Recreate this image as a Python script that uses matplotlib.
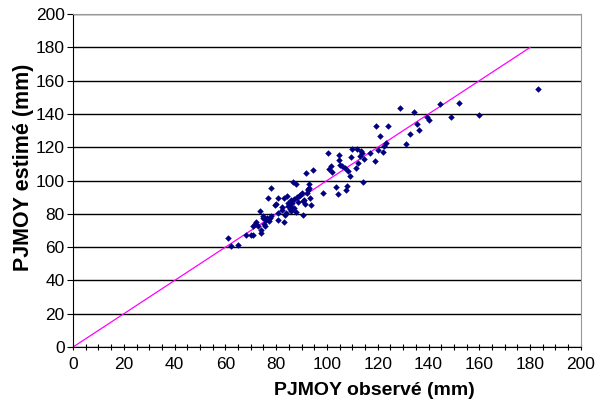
import numpy as np
import matplotlib
matplotlib.use('Agg')
import matplotlib.pyplot as plt
from matplotlib.ticker import MultipleLocator

plt.rcParams['font.family'] = ['Liberation Sans', 'DejaVu Sans']

# PJMOY observé (mm)
obs = [183.0, 61.2, 62.2, 65.1, 68.3, 70.0, 71.0, 71.0, 71.8, 72.2,
       73.7, 74.1, 74.2, 74.8, 75.3, 75.6, 76.0, 76.3, 76.6, 77.1,
       77.4, 78.1, 79.4, 80.0, 80.6, 80.6, 80.6, 82.1, 82.4, 82.9,
       83.2, 83.6, 83.9, 84.2, 84.7, 85.1, 85.4, 85.7, 86.2, 86.6,
       86.9, 87.2, 87.7, 88.0, 88.2, 88.8, 89.2, 90.0, 90.4, 90.7,
       91.0, 91.5, 91.8, 92.1, 92.6, 93.0, 93.0, 93.5, 93.9, 94.5,
       98.3, 100.6, 100.9, 101.7, 102.1, 103.6, 104.4, 104.9, 104.9, 105.2,
       106.0, 107.1, 107.4, 107.7, 108.2, 109.1, 109.4, 109.7, 111.3, 112.0,
       112.3, 113.2, 113.5, 114.0, 114.3, 114.7, 116.9, 119.1, 119.3, 120.3,
       120.8, 121.9, 122.6, 123.4, 124.1, 128.7, 131.0, 132.9, 134.3, 135.5,
       136.3, 139.3, 140.1, 144.6, 148.7, 152.2, 159.8,
       72.8, 75.0, 77.8, 84.5, 86.0, 88.5, 92.4, 85.8]
# PJMOY estimé (mm)
est = [155.0, 65.7, 60.5, 61.1, 67.3, 67.3, 67.3, 72.5, 74.1, 74.9,
       81.9, 70.5, 68.5, 77.5, 74.1, 72.5, 76.1, 77.5, 89.5, 75.5,
       77.5, 95.5, 85.5, 85.9, 89.5, 80.5, 76.1, 82.1, 83.9, 75.3,
       89.5, 79.5, 80.5, 90.5, 86.5, 84.5, 82.9, 88.5, 86.5, 98.9,
       83.5, 88.9, 81.3, 98.1, 90.1, 90.5, 91.5, 92.5, 79.3, 87.5,
       88.5, 86.1, 104.5, 92.5, 94.5, 98.1, 95.5, 89.5, 85.1, 106.1,
       92.5, 116.5, 106.9, 108.5, 104.9, 96.1, 91.9, 115.5, 112.5, 109.1,
       108.5, 107.5, 94.5, 96.5, 105.5, 102.9, 114.1, 118.9, 107.5, 118.9,
       110.5, 114.9, 117.5, 116.5, 98.9, 112.9, 116.5, 111.5, 132.5, 118.1,
       126.9, 116.9, 120.5, 122.5, 132.9, 143.9, 122.1, 127.9, 141.5, 134.1,
       130.1, 138.1, 136.5, 145.9, 138.5, 146.5, 139.5,
       73.0, 79.0, 78.5, 85.0, 84.0, 87.0, 95.0, 82.0]

# droite 1:1
line_x = [0, 180]
line_y = [0, 180]

fig = plt.figure(figsize=(6.14, 4.04), dpi=100)
ax = fig.add_axes([0.119, 0.141, 0.827, 0.824])

ax.set_axisbelow(True)
ax.yaxis.grid(True, color='black', linewidth=1.0)
ax.plot(line_x, line_y, color='#FF00FF', linewidth=0.9, zorder=2)
ax.scatter(obs, est, marker='D', s=11, color='#000080', linewidths=0, zorder=3)

ax.set_xlim(0, 200)
ax.set_ylim(0, 200)
ax.xaxis.set_major_locator(MultipleLocator(20))
ax.xaxis.set_minor_locator(MultipleLocator(5))
ax.yaxis.set_major_locator(MultipleLocator(20))

for s in ['top', 'right']:
    ax.spines[s].set_color('#999999')
ax.spines['left'].set_color('black')
ax.spines['bottom'].set_color('black')

ax.tick_params(axis='x', which='both', direction='inout', length=5, width=0.8, labelsize=12.5, pad=5)
ax.tick_params(axis='y', which='major', direction='out', length=4, width=0.8, labelsize=12.5, pad=2)

ax.set_xlabel('PJMOY observé (mm)', fontsize=14, fontweight='bold', va='center')
ax.xaxis.set_label_coords(0.593, -0.132)
ax.set_ylabel('PJMOY estimé (mm)', fontsize=15.5, fontweight='bold', va='center')
ax.yaxis.set_label_coords(-0.097, 0.54)

fig.savefig('out.png', dpi=100)
